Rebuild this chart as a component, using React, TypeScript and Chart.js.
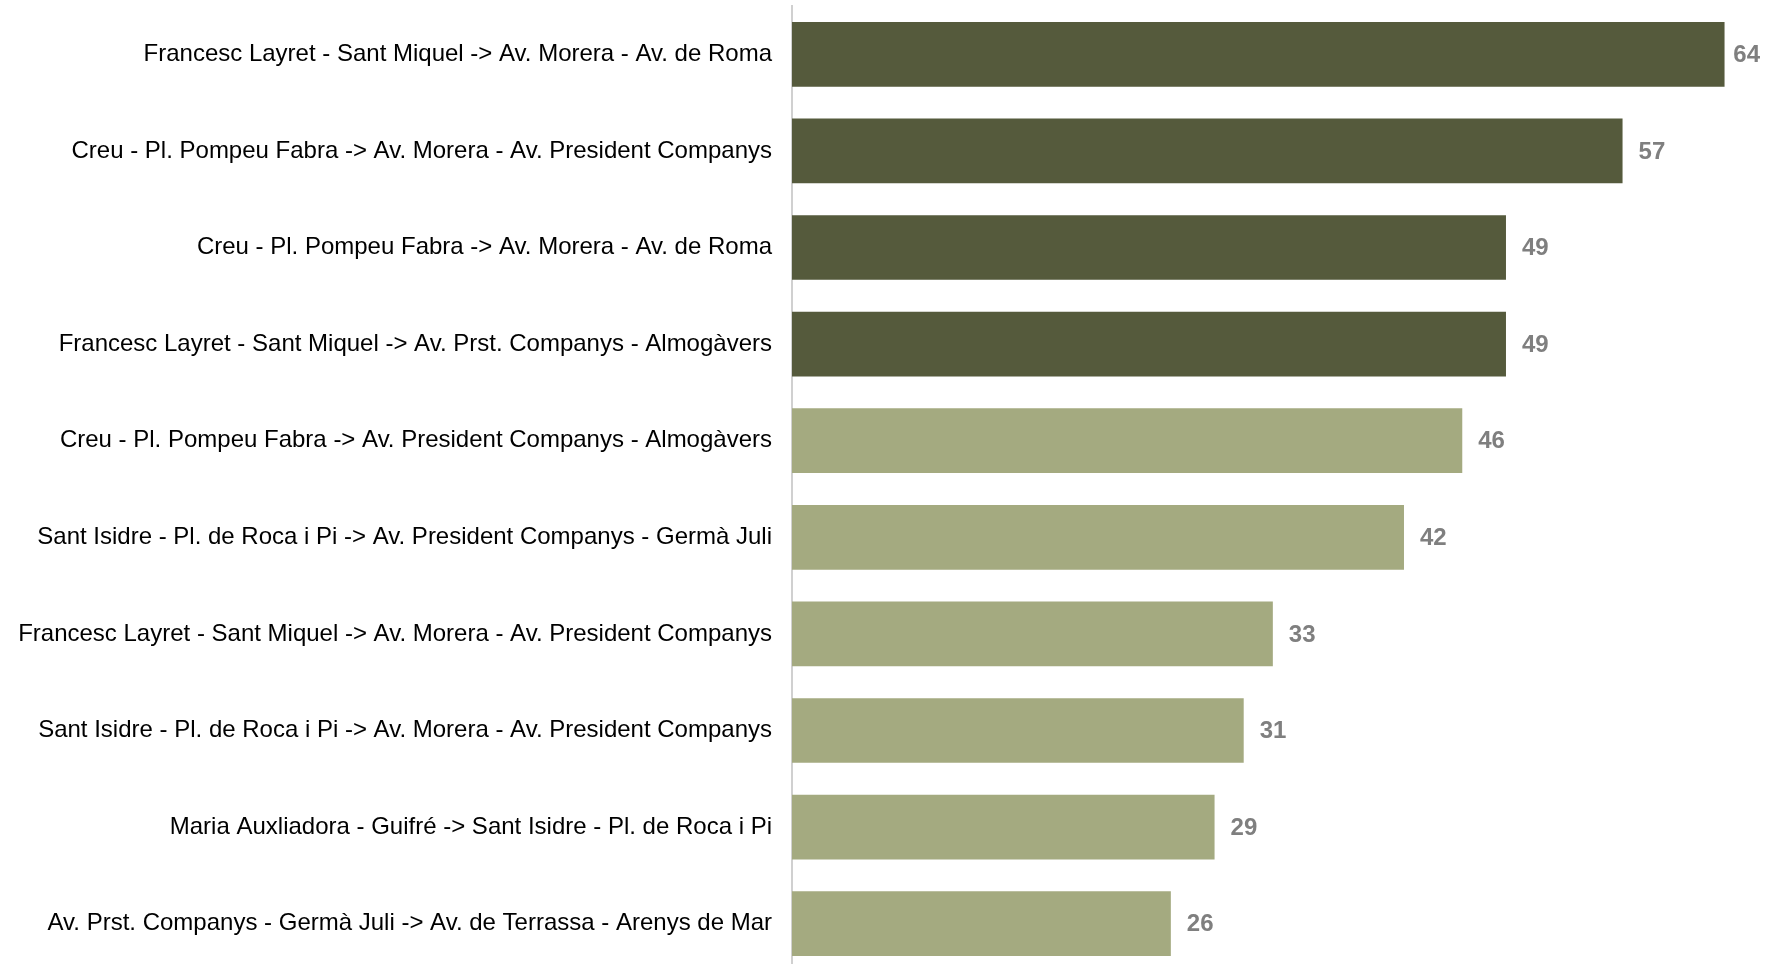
import React, { useEffect, useRef } from "react";
import { Chart, registerables } from "chart.js";

Chart.register(...registerables);

const categories: string[] = [
  "Francesc Layret - Sant Miquel -> Av. Morera - Av. de Roma",
  "Creu - Pl. Pompeu Fabra -> Av. Morera - Av. President Companys",
  "Creu - Pl. Pompeu Fabra -> Av. Morera - Av. de Roma",
  "Francesc Layret - Sant Miquel -> Av. Prst. Companys - Almogàvers",
  "Creu - Pl. Pompeu Fabra -> Av. President Companys - Almogàvers",
  "Sant Isidre - Pl. de Roca i Pi -> Av. President Companys - Germà Juli",
  "Francesc Layret - Sant Miquel -> Av. Morera - Av. President Companys",
  "Sant Isidre - Pl. de Roca i Pi -> Av. Morera - Av. President Companys",
  "Maria Auxliadora - Guifré -> Sant Isidre - Pl. de Roca i Pi",
  "Av. Prst. Companys - Germà Juli -> Av. de Terrassa - Arenys de Mar",
];

const values: number[] = [64, 57, 49, 49, 46, 42, 33, 31, 29, 26];

const highlighted: boolean[] = [true, true, true, true, false, false, false, false, false, false];

const DARK = "#555a3c";
const LIGHT = "#a4aa80";

const valueLabelPlugin = {
  id: "valueLabels",
  afterDatasetsDraw(chart: any) {
    const ctx = chart.ctx;
    const meta = chart.getDatasetMeta(0);
    const right = chart.chartArea.right - 17;
    ctx.save();
    ctx.font = "bold 24px 'Liberation Sans', Arial, sans-serif";
    ctx.fillStyle = "#7f7f7f";
    ctx.textAlign = "left";
    ctx.textBaseline = "middle";
    meta.data.forEach((bar: any, i: number) => {
      const txt = String(values[i]);
      const w = ctx.measureText(txt).width;
      const x = Math.min(bar.x + 16, right - w);
      ctx.fillText(txt, x, bar.y + 1);
    });
    ctx.restore();
  },
};

export default function App() {
  const canvasRef = useRef<HTMLCanvasElement | null>(null);

  useEffect(() => {
    if (!canvasRef.current) return;
    const chart = new Chart(canvasRef.current, {
      type: "bar",
      data: {
        labels: categories,
        datasets: [
          {
            data: values,
            backgroundColor: highlighted.map((h) => (h ? DARK : LIGHT)),
            borderWidth: 0,
            barPercentage: 0.67,
            categoryPercentage: 1,
          },
        ],
      },
      options: {
        indexAxis: "y",
        animation: false,
        responsive: false,
        devicePixelRatio: 1,
        layout: { padding: { top: 6, right: 0, bottom: 0, left: 0 } },
        plugins: {
          legend: { display: false },
          tooltip: { enabled: false },
        },
        scales: {
          x: {
            display: false,
            min: 0,
            max: 67.6,
          },
          y: {
            grid: { display: false, drawTicks: false },
            border: { display: true, color: "#d0d0d0", width: 2 },
            ticks: {
              color: "#000000",
              padding: 20,
              font: { family: "'Liberation Sans', Arial, sans-serif", size: 24 },
            },
            afterFit(scale: any) {
              scale.width = 792;
              scale.paddingTop = 0;
              scale.paddingBottom = 0;
            },
          },
        },
      },
      plugins: [valueLabelPlugin],
    });
    return () => chart.destroy();
  }, []);

  return (
    <div
      style={{
        position: "fixed",
        top: 0,
        left: 0,
        width: 1777,
        height: 964,
        overflow: "hidden",
        background: "#ffffff",
      }}
    >
      <canvas ref={canvasRef} width={1777} height={972} style={{ display: "block" }} />
    </div>
  );
}
